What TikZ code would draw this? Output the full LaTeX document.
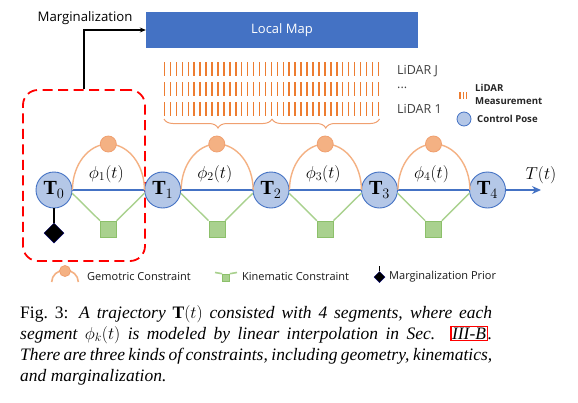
\documentclass[tikz,border=0pt]{standalone}
\usepackage{fontspec}
\setmainfont{Liberation Serif}
\newfontfamily\dfont{Open Sans}
\usetikzlibrary{shapes.geometric,arrows.meta,decorations.pathreplacing}
\definecolor{mapblue}{HTML}{4472C4}
\definecolor{posefill}{HTML}{B4C7E7}
\definecolor{orangeL}{HTML}{F4B183}
\definecolor{orangeD}{HTML}{ED7D31}
\definecolor{orangeM}{HTML}{F0A070}
\definecolor{greenL}{HTML}{A9D18E}
\definecolor{greenD}{HTML}{8CC06A}
\definecolor{diagray}{HTML}{404040}
\begin{document}
\begin{tikzpicture}[x=1pt,y=-1pt,
  pose/.style={circle,draw=mapblue,fill=posefill,line width=0.9pt,minimum size=36pt,inner sep=0pt,font=\fontsize{20}{20}\selectfont},
  geo/.style={circle,draw=orangeM,fill=orangeL,line width=0.8pt,minimum size=16pt,inner sep=0pt},
  geoline/.style={draw=orangeL,line width=1.4pt},
  kin/.style={rectangle,draw=greenD,fill=greenL,line width=0.6pt,minimum size=16pt,inner sep=0pt},
  kinline/.style={draw=greenL,line width=1.4pt},
  traj/.style={draw=mapblue,line width=1.4pt},
  bar/.style={draw=orangeD,line width=1.5pt},
  phil/.style={font=\fontsize{17}{17}\selectfont,inner sep=0pt},
  lidartxt/.style={font=\dfont\fontsize{12.5}{12.5}\selectfont,text=diagray,anchor=west,inner sep=0pt},
  legtxt/.style={font=\dfont\fontsize{11}{11}\selectfont,text=black!90,anchor=west,inner sep=0pt},
  smalleg/.style={font=\dfont\bfseries\fontsize{9.6}{9.6}\selectfont,text=black!85,anchor=west,inner sep=0pt},
  capline/.style={anchor=base west,inner sep=0pt,font=\fontsize{17.5}{21}\selectfont}
]
\useasboundingbox (0,0) rectangle (578,402);
\fill[white] (0,0) rectangle (578,402);

% Local map
\node[fill=mapblue,minimum width=272pt,minimum height=36pt,inner sep=0pt,
      font=\dfont\fontsize{13}{13}\selectfont,text=white] (map) at (282,30) {Local Map};

% Marginalization box
\node[draw=red,dash pattern=on 10pt off 5.5pt,line width=1.8pt,rounded corners=15pt,
      minimum width=122pt,minimum height=171pt,inner sep=0pt] (mbox) at (84,175.5) {};
\draw[-{Stealth[length=6pt,width=5pt]},line width=1.3pt] (mbox.north) |- (map.west);
\node[font=\dfont\fontsize{13.2}{13.2}\selectfont,inner sep=0pt] (mlab) at (85,18) {Marginalization};

% LiDAR bars
\foreach \i in {0,...,36}{
  \foreach \r in {62,82,102}{
    \draw[bar] (164.5+\i*5.94,\r) -- ++(0,14);
  }
}
\draw[orangeM,line width=1pt,decorate,decoration={brace,mirror,amplitude=9pt}] (164,119) -- (272,119);
\draw[orangeM,line width=1pt,decorate,decoration={brace,mirror,amplitude=9pt}] (272,119) -- (379.5,119);

\node[lidartxt] (lj) at (397,71) {LiDAR J};
\node[lidartxt] (ld) at (397,88) {...};
\node[lidartxt] (l1) at (397,109) {LiDAR 1};

% legend right
\foreach \x in {460,463.2,466.4}{ \draw[orangeD,line width=1.1pt] (\x,92) -- (\x,99); }
\node[smalleg] (lm1) at (475,88) {LiDAR};
\node[smalleg] (lm2) at (475,101) {Measurement};
\node[circle,draw=mapblue,fill=posefill,line width=0.8pt,minimum size=14pt,inner sep=0pt] (cpi) at (464,119) {};
\node[smalleg] (cpt) at (477,119) {Control Pose};

% poses
\node[pose] (T0) at (54,190) {$\mathbf{T}_0$};
\node[pose] (T1) at (162.7,190) {$\mathbf{T}_1$};
\node[pose] (T2) at (271,190) {$\mathbf{T}_2$};
\node[pose] (T3) at (379.5,190) {$\mathbf{T}_3$};
\node[pose] (T4) at (487.5,190) {$\mathbf{T}_4$};
\coordinate (tend) at (541,190);

\draw[traj] (T0) -- (T1);
\draw[traj] (T1) -- (T2);
\draw[traj] (T2) -- (T3);
\draw[traj] (T3) -- (T4);
\draw[traj,-{Stealth[length=9pt,width=8pt,inset=3pt]}] (T4) -- (tend);
\node[font=\fontsize{17}{17}\selectfont,inner sep=0pt] (tlab) at (541,175) {$T(t)$};

% geometric constraints
\foreach \a/\b/\m/\k in {T0/T1/108.3/1,T1/T2/216.8/2,T2/T3/325.2/3,T3/T4/433.5/4}{
  \draw[geoline] (\a.east) arc[start angle=180,end angle=0,x radius=36pt,y radius=46pt];
  \node[geo] (g\k) at (\m,144) {};
  \node[kin] (k\k) at (\m,229) {};
  \draw[kinline] (\a.-10) -- (k\k.north west);
  \draw[kinline] (k\k.north east) -- (\b.190);
  \node[phil] (p\k) at (\m-2,174) {$\phi_{\k}(t)$};
}

% marginalization prior
\node[diamond,fill=black,draw=black!60!blue,line width=0.5pt,minimum width=20pt,minimum height=20pt,inner sep=0pt] (dm) at (54,233) {};
\draw[line width=1.6pt] (T0.south) -- (dm.north);

% bottom legend
\coordinate (lga) at (51.7,282);
\draw[geoline,line width=1.6pt] (lga) arc[start angle=180,end angle=0,x radius=13.3pt,y radius=12pt];
\node[geo,minimum size=11pt] (lgc) at (65,271) {};
\node[legtxt] (lgt) at (87,277) {Gemotric Constraint};

\coordinate (lka) at (215,272.5);
\coordinate (lkb) at (237,272.5);
\node[kin,minimum size=7pt] (lks) at (226,277.5) {};
\draw[kinline,line width=1.6pt] (lka) -- (lks.north west);
\draw[kinline,line width=1.6pt] (lks.north east) -- (lkb);
\node[legtxt] (lkt) at (242,277) {Kinematic Constraint};

\node[diamond,fill=black,draw=black!60!blue,line width=0.5pt,minimum width=11pt,minimum height=11pt,inner sep=0pt] (ldm) at (379.5,277) {};
\coordinate (ldt) at (379.5,266);
\draw[line width=1.5pt] (ldt) -- (ldm.north);
\node[legtxt] (ldtx) at (389,277) {Marginalization Prior};

% caption
\node[capline] (c1) at (20,318) {\makebox[472pt][s]{Fig.~3: \textit{A trajectory $\mathbf{T}(t)$ consisted with 4 segments, where each}}};
\node[capline] (c2) at (20,339) {\makebox[472pt][s]{\textit{segment $\phi_k(t)$ is modeled by linear interpolation in Sec. {\setlength{\fboxsep}{0.5pt}\setlength{\fboxrule}{1.3pt}\color{red}\fbox{\color{black}III-B}}.}}};
\node[capline] (c3) at (20,360) {\makebox[472pt][s]{\textit{There are three kinds of constraints, including geometry, kinematics,}}};
\node[capline] (c4) at (20,381) {\textit{and marginalization.}};
\end{tikzpicture}
\end{document}
